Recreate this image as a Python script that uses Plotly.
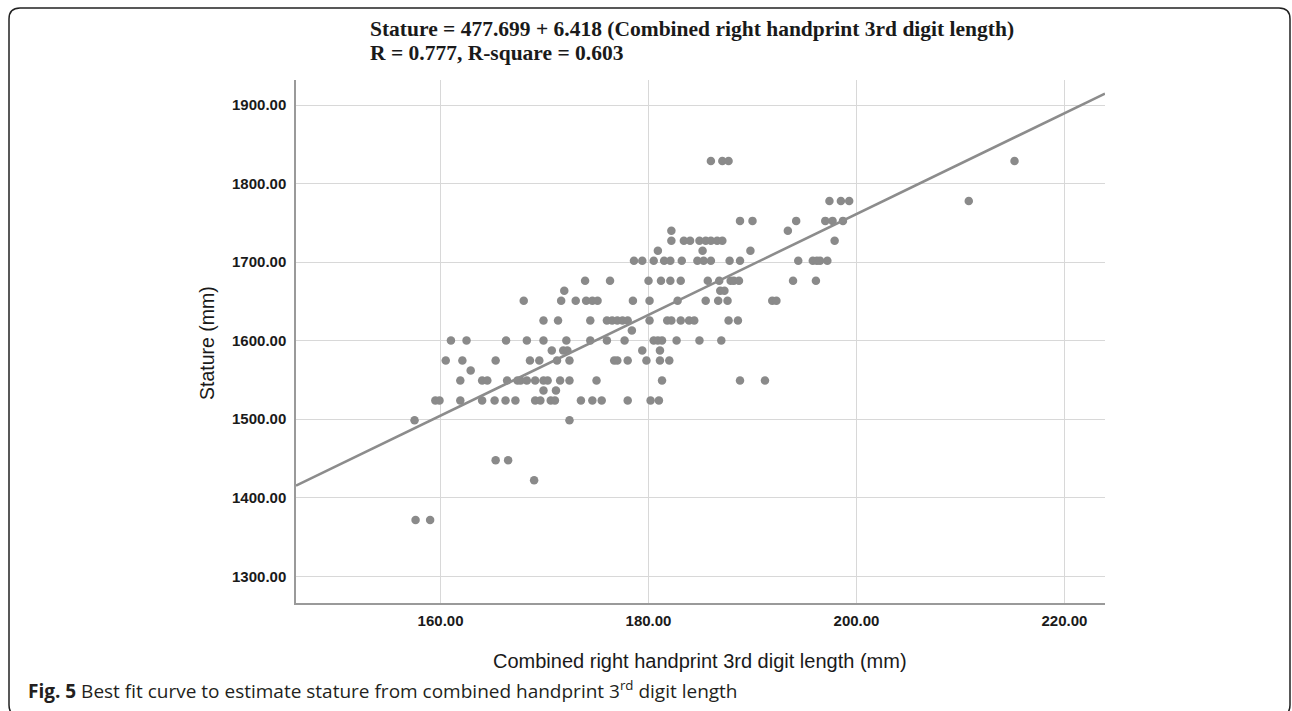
import plotly.graph_objects as go

# ---- data ----
rows = {
    1828.8: [186.0, 187.1, 187.7, 215.2],
    1778.0: [197.4, 198.5, 199.3, 210.8],
    1752.6: [188.8, 190.0, 194.2, 197.0, 197.7, 198.7],
    1739.9: [182.2, 193.4],
    1727.2: [182.2, 183.4, 184.0, 184.9, 185.5, 186.0, 186.6, 187.1, 197.9],
    1714.5: [180.9, 185.2, 189.8],
    1701.8: [178.6, 179.4, 180.5, 181.5, 182.1, 183.2, 184.7, 185.3, 186.0, 187.8,
             188.8, 194.4, 195.8, 196.2, 196.5, 197.2],
    1676.4: [173.9, 176.3, 180.0, 181.2, 182.1, 183.1, 185.7, 186.8, 187.9, 188.2,
             188.7, 193.9, 196.1],
    1663.7: [171.9, 186.9, 187.3],
    1651.0: [168.0, 171.6, 173.0, 174.0, 174.6, 175.1, 178.5, 180.1, 182.8, 185.5,
             186.7, 187.6, 191.9, 192.3],
    1625.6: [169.9, 171.3, 174.4, 176.0, 176.5, 177.0, 177.5, 178.0, 180.1, 181.8,
             182.2, 183.1, 183.9, 184.4, 187.7, 188.6],
    1612.9: [178.4],
    1600.2: [161.0, 162.5, 166.3, 168.3, 169.9, 172.1, 174.4, 176.0, 177.7, 180.5,
             180.9, 181.3, 182.7, 184.9, 187.0],
    1587.5: [170.7, 171.8, 172.2, 179.4, 181.1],
    1574.8: [160.5, 162.1, 165.3, 168.6, 169.5, 171.2, 172.4, 176.7, 177.0, 178.0,
             179.8, 181.1, 182.0],
    1562.1: [162.9],
    1549.4: [161.9, 164.0, 164.5, 166.4, 167.4, 167.7, 168.3, 169.1, 169.9, 170.3,
             171.5, 172.4, 175.0, 181.3, 188.8, 191.2],
    1536.7: [169.9, 171.1],
    1524.0: [159.5, 159.9, 161.9, 164.0, 165.2, 166.25, 167.2, 169.1, 169.6, 170.6,
             171.0, 173.5, 174.6, 175.5, 178.0, 180.2, 181.0],
    1498.6: [157.5, 172.4],
    1447.8: [165.3, 166.5],
    1422.4: [169.0],
    1371.6: [157.6, 159.0],
}
hand_len = [x for s, xs in rows.items() for x in xs]
stature = [s for s, xs in rows.items() for x in xs]

intercept = 477.699
slope = 6.418
x_range = [146.1, 223.9]
y_range = [1266, 1932]
x_ticks = [160, 180, 200, 220]
y_ticks = [1300, 1400, 1500, 1600, 1700, 1800, 1900]

title_line1 = "Stature = 477.699 + 6.418 (Combined right handprint 3rd digit length)"
title_line2 = "R = 0.777, R-square = 0.603"
x_title = "Combined right handprint 3rd digit length (mm)"
y_title = "Stature (mm)"
caption = "<b>Fig. 5</b> Best fit curve to estimate stature from combined handprint 3<sup>rd</sup> digit length"

# ---- layout geometry (pixels) ----
W, H = 1292, 711
L, R, T, B = 296, 1105, 80, 603
pw, ph = R - L, B - T


def px(xp):
    return (xp - L) / pw


def py(yp):
    return (B - yp) / ph


fit_y = [intercept + slope * x for x in x_range]

fig = go.Figure()
fig.add_trace(go.Scatter(
    x=hand_len, y=stature, mode="markers",
    marker=dict(size=8.5, color="#8a8a8a", line=dict(width=0)),
    hoverinfo="x+y", showlegend=False))
fig.add_trace(go.Scatter(
    x=x_range, y=fit_y, mode="lines",
    line=dict(color="#8c8c8c", width=2.6),
    hoverinfo="skip", showlegend=False))

tickfont = dict(family="Liberation Sans, Arial, sans-serif", size=15, color="#1a1a1a", weight="bold")

fig.update_xaxes(
    range=x_range, tickvals=x_ticks, ticktext=[f"{v:.2f}" for v in x_ticks],
    showgrid=True, gridcolor="#d8d8d8", gridwidth=1,
    showline=True, linecolor="#9a9a9a", linewidth=1.5,
    zeroline=False, ticks="", tickfont=tickfont, ticklabelstandoff=3)
fig.update_yaxes(
    range=y_range, tickvals=y_ticks, ticktext=[f"{v:.2f}" for v in y_ticks],
    showgrid=True, gridcolor="#d8d8d8", gridwidth=1,
    showline=True, linecolor="#9a9a9a", linewidth=1.5,
    zeroline=False, ticks="", tickfont=tickfont, ticklabelstandoff=5)

# rounded frame
x0, x1, y0, y1, r = 9, 1290, 8, 716, 11
path = (f"M {px(x0 + r)} {py(y0)} L {px(x1 - r)} {py(y0)} "
        f"Q {px(x1)} {py(y0)} {px(x1)} {py(y0 + r)} "
        f"L {px(x1)} {py(y1 - r)} Q {px(x1)} {py(y1)} {px(x1 - r)} {py(y1)} "
        f"L {px(x0 + r)} {py(y1)} Q {px(x0)} {py(y1)} {px(x0)} {py(y1 - r)} "
        f"L {px(x0)} {py(y0 + r)} Q {px(x0)} {py(y0)} {px(x0 + r)} {py(y0)} Z")
fig.add_shape(type="path", path=path, xref="paper", yref="paper",
              line=dict(color="#222222", width=1.5), layer="above")

serif = dict(family="Liberation Serif, Times New Roman, serif", size=21.5, color="#1a1a1a")
fig.add_annotation(x=px(368), y=py(29), xref="paper", yref="paper", text=f"<b>{title_line1}</b>",
                   showarrow=False, xanchor="left", yanchor="middle", font=serif)
fig.add_annotation(x=px(368), y=py(53), xref="paper", yref="paper", text=f"<b>{title_line2}</b>",
                   showarrow=False, xanchor="left", yanchor="middle", font=serif)
fig.add_annotation(x=px(700), y=py(661), xref="paper", yref="paper", text=x_title,
                   showarrow=False, xanchor="center", yanchor="middle",
                   font=dict(family="Liberation Sans, Arial, sans-serif", size=20, color="#1a1a1a"))
fig.add_annotation(x=px(207), y=py(343), xref="paper", yref="paper", text=y_title, textangle=-90,
                   showarrow=False, xanchor="center", yanchor="middle",
                   font=dict(family="Liberation Sans, Arial, sans-serif", size=19.5, color="#1a1a1a"))
fig.add_annotation(x=px(26), y=py(690), xref="paper", yref="paper", text=caption,
                   showarrow=False, xanchor="left", yanchor="middle",
                   font=dict(family="Open Sans, Noto Sans, sans-serif", size=19, color="#231f20"))

fig.update_layout(
    width=W, height=H,
    margin=dict(l=L, r=W - R, t=T, b=H - B),
    paper_bgcolor="white", plot_bgcolor="white",
    showlegend=False)

fig.write_html("out.html", config={"displayModeBar": False},
               post_script="document.body.style.margin='0';document.body.style.overflow='hidden';")
